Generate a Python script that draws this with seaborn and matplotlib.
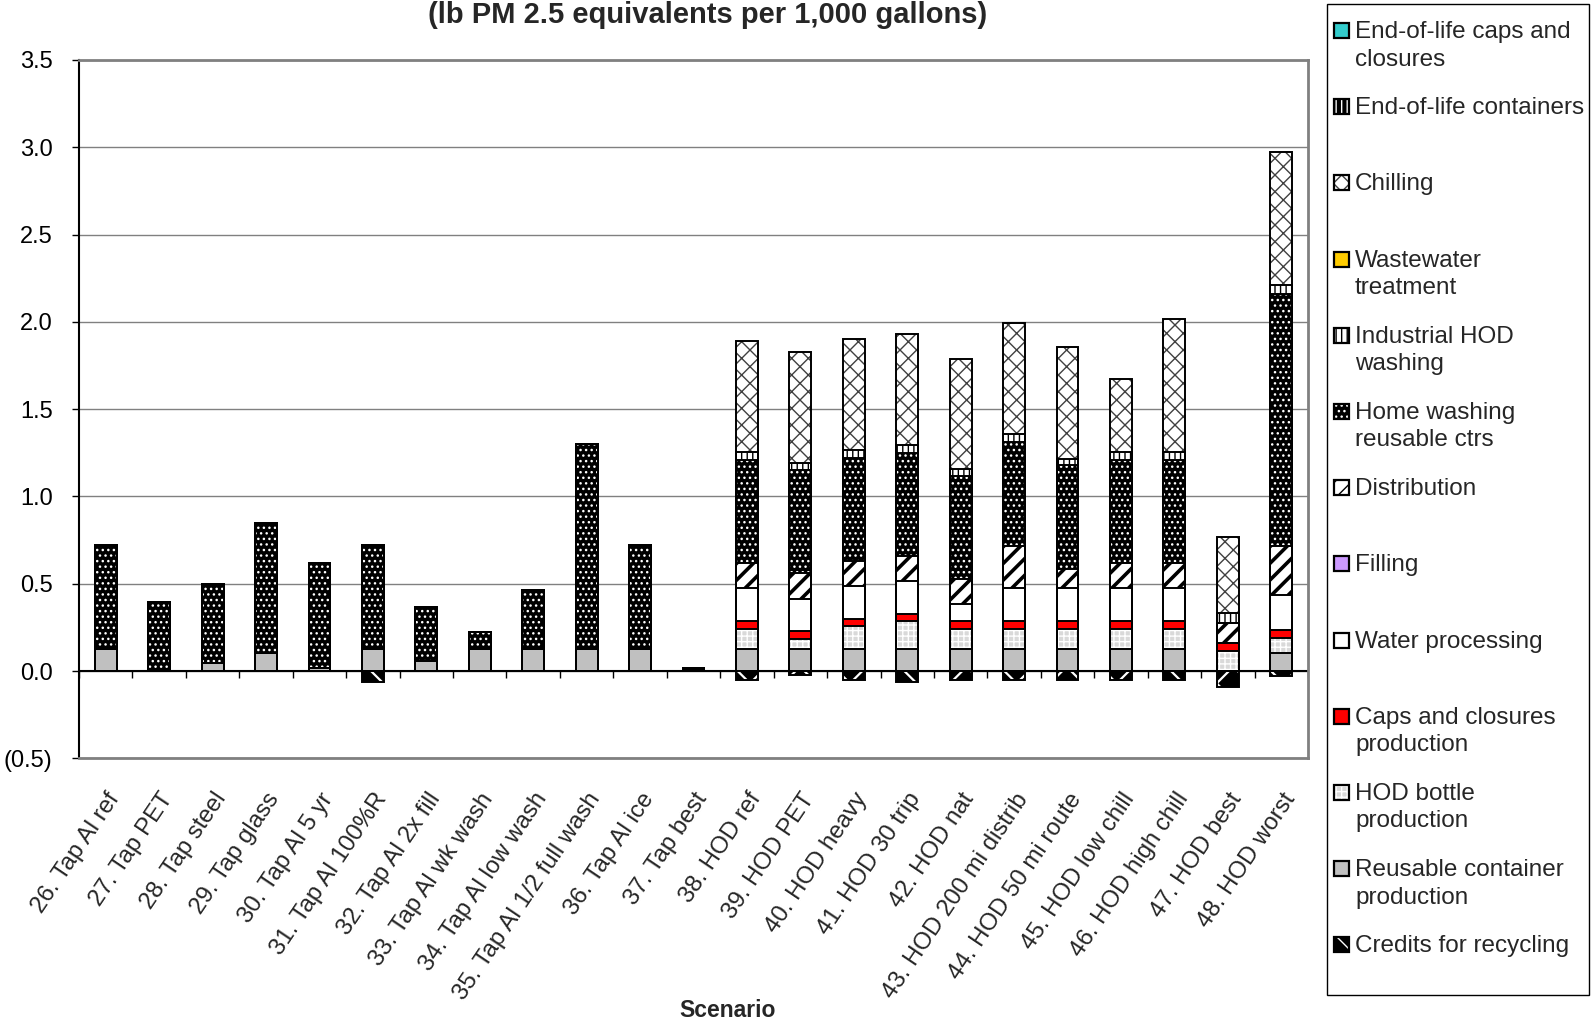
import numpy as np
import matplotlib
matplotlib.use("Agg")
import matplotlib.pyplot as plt
from matplotlib.patches import Rectangle
from matplotlib.ticker import FuncFormatter, MultipleLocator
import seaborn as sns

# ---- data (lb PM 2.5 equivalents per 1,000 gallons) ----
scenarios = [
    "26. Tap Al ref", "27. Tap PET", "28. Tap steel", "29. Tap glass",
    "30. Tap Al 5 yr", "31. Tap Al 100%R", "32. Tap Al 2x fill",
    "33. Tap Al wk wash", "34. Tap Al low wash", "35. Tap Al 1/2 full wash",
    "36. Tap Al ice", "37. Tap best", "38. HOD ref", "39. HOD PET",
    "40. HOD heavy", "41. HOD 30 trip", "42. HOD nat", "43. HOD 200 mi distrib",
    "44. HOD 50 mi route", "45. HOD low chill", "46. HOD high chill",
    "47. HOD best", "48. HOD worst",
]

credits_recycling = [0, 0, 0, 0, 0, -0.061, 0, 0, 0, 0, 0, 0,
                     -0.052, -0.020, -0.050, -0.065, -0.050, -0.050, -0.050, -0.050, -0.050, -0.093, -0.028]
reusable_container = [0.124, 0.012, 0.044, 0.105, 0.019, 0.124, 0.059, 0.124, 0.124, 0.124, 0.124, 0.0,
                      0.125, 0.125, 0.125, 0.125, 0.125, 0.125, 0.125, 0.125, 0.125, 0.0, 0.105]
hod_bottle = [0, 0, 0, 0, 0, 0, 0, 0, 0, 0, 0, 0,
              0.115, 0.058, 0.131, 0.160, 0.115, 0.115, 0.115, 0.115, 0.115, 0.115, 0.085]
caps_production = [0, 0, 0, 0, 0, 0, 0, 0, 0, 0, 0, 0,
                   0.045, 0.044, 0.042, 0.042, 0.045, 0.045, 0.045, 0.045, 0.045, 0.045, 0.045]
water_processing = [0, 0, 0, 0, 0, 0, 0, 0, 0, 0, 0, 0,
                    0.192, 0.188, 0.189, 0.188, 0.096, 0.192, 0.192, 0.192, 0.192, 0.0, 0.200]
filling = [0] * 23
distribution = [0, 0, 0, 0, 0, 0, 0, 0, 0, 0, 0, 0,
                0.144, 0.145, 0.144, 0.145, 0.144, 0.240, 0.106, 0.144, 0.144, 0.115, 0.282]
home_washing = [0.596, 0.382, 0.453, 0.741, 0.598, 0.600, 0.307, 0.101, 0.339, 1.176, 0.598, 0.020,
                0.587, 0.590, 0.592, 0.590, 0.590, 0.596, 0.596, 0.587, 0.587, 0.0, 1.443]
industrial_washing = [0, 0, 0, 0, 0, 0, 0, 0, 0, 0, 0, 0,
                      0.044, 0.042, 0.042, 0.044, 0.041, 0.043, 0.038, 0.044, 0.044, 0.055, 0.050]
wastewater = [0] * 23
chilling = [0, 0, 0, 0, 0, 0, 0, 0, 0, 0, 0, 0,
            0.636, 0.636, 0.635, 0.634, 0.634, 0.639, 0.638, 0.423, 0.763, 0.435, 0.762]
eol_containers = [0] * 23
eol_caps = [0] * 23

# ---- styles: (label, values, face, hatch, hatch colour) in stacking order ----
layers = [
    ("Reusable container\nproduction", reusable_container, "#C0C0C0", None, None),
    ("HOD bottle\nproduction", hod_bottle, "#D9D9D9", "+++", "white"),
    ("Caps and closures\nproduction", caps_production, "#FF0000", None, None),
    ("Water processing", water_processing, "white", None, None),
    ("Filling", filling, "#CC99FF", None, None),
    ("Distribution", distribution, "white", "//", "black"),
    ("Home washing\nreusable ctrs", home_washing, "black", "...", "white"),
    ("Industrial HOD\nwashing", industrial_washing, "white", "|||", "black"),
    ("Wastewater\ntreatment", wastewater, "#FFCC00", None, None),
    ("Chilling", chilling, "white", "xx", "#404040"),
    ("End-of-life containers", eol_containers, "black", "|||", "white"),
    ("End-of-life caps and\nclosures", eol_caps, "#33CCCC", None, None),
]
credit_style = ("Credits for recycling", credits_recycling, "black", "x", "white")

sns.set_theme(style="white")
plt.rcParams["font.family"] = ["Liberation Sans", "DejaVu Sans"]
plt.rcParams["hatch.linewidth"] = 1.0

W, H = 1595, 1024
fig = plt.figure(figsize=(W / 100, H / 100), dpi=100)
ax = fig.add_axes([79 / W, 1 - 758.3 / H, (1308 - 79) / W, (758.3 - 60) / H])

BAR_W = 0.41
EDGE_LW = 1.4


def draw_bars(heights, face, hatch, hcolor, hatch_lw=None):
    """Draw one set of bars (0 -> heights) with fill/hatch and a black outline."""
    n_before = len(ax.patches)
    sns.barplot(x=scenarios, y=heights, order=scenarios, ax=ax,
                color=face, saturation=1, errorbar=None, width=BAR_W,
                edgecolor=hcolor if hatch else face, linewidth=0,
                hatch=hatch, zorder=2)
    if hatch_lw is not None:
        for p in ax.patches[n_before:]:
            try:
                p.set_hatch_linewidth(hatch_lw)
            except AttributeError:
                pass
    sns.barplot(x=scenarios, y=heights, order=scenarios, ax=ax,
                fill=False, errorbar=None, width=BAR_W,
                edgecolor="black", linewidth=EDGE_LW, zorder=3)


# stacked bars: draw cumulative totals from the top component downwards,
# each lower component covering the part of the bar beneath it
values = np.array([np.asarray(v, dtype=float) for _, v, *_ in layers])
tops = np.cumsum(values, axis=0)
for k in range(len(layers) - 1, -1, -1):
    label, vals, face, hatch, hcol = layers[k]
    if not np.any(values[k]):
        continue
    draw_bars(tops[k], face, hatch, hcol,
              hatch_lw=2.6 if label == "Distribution" else None)

draw_bars(np.asarray(credits_recycling, dtype=float), *credit_style[2:],
          hatch_lw=1.6)

# ---- axes styling ----
ax.set_xlim(-0.5, len(scenarios) - 0.5)
ax.set_ylim(-0.5, 3.5)
ax.yaxis.set_major_locator(MultipleLocator(0.5))
ax.yaxis.set_major_formatter(FuncFormatter(
    lambda v, _: f"({abs(v):.1f})" if v < -1e-9 else f"{v:.1f}"))
ax.yaxis.grid(True, color="#808080", linewidth=1.0)
ax.xaxis.grid(False)
ax.set_axisbelow(True)

ax.axhline(0, color="black", linewidth=1.5, zorder=1.5)
ax.vlines(np.arange(len(scenarios) + 1) - 0.5, -0.04, 0, color="black",
          linewidth=1.0, zorder=1.5)

for side in ("top", "right", "bottom"):
    ax.spines[side].set_color("#808080")
    ax.spines[side].set_linewidth(2.0)
ax.spines["left"].set_color("black")
ax.spines["left"].set_linewidth(1.5)

ax.tick_params(axis="y", left=True, length=5, width=1, direction="out",
               pad=14, labelsize=17, colors="black")
ax.set_xticks(range(len(scenarios)))
ax.set_xticklabels(scenarios, rotation=56, ha="right", va="top",
                   rotation_mode="anchor", fontsize=17.3)
ax.tick_params(axis="x", bottom=False, length=0, pad=22)
ax.set_xlabel("")
ax.set_ylabel("")

fig.text(708 / W, 1 - 23 / H, "(lb PM 2.5 equivalents per 1,000 gallons)",
         ha="center", va="baseline", fontsize=21, fontweight="bold")
fig.text(727.5 / W, 1 - 1017 / H, "Scenario", ha="center", va="baseline",
         fontsize=16.5, fontweight="bold")

# ---- legend panel ----
def px(x, y):
    return x / W, 1 - y / H

fig.add_artist(Rectangle(px(1326.5, 995), 262.5 / W, 990.7 / H,
                         transform=fig.transFigure, facecolor="white",
                         edgecolor="black", linewidth=1.0))

legend_entries = ([credit_style] + layers)[::-1]
for i, (label, _, face, hatch, hcol) in enumerate(legend_entries):
    base = 38 + 76.2 * i
    fig.add_artist(Rectangle(px(1334, base), 15 / W, 15 / H,
                             transform=fig.transFigure, facecolor=face,
                             edgecolor=hcol if hatch else face, hatch=hatch,
                             linewidth=0))
    fig.add_artist(Rectangle(px(1334, base), 15 / W, 15 / H,
                             transform=fig.transFigure, facecolor="none",
                             edgecolor="black", linewidth=1.6))
    for j, line in enumerate(label.split("\n")):
        fig.text(1355 / W, 1 - (base + 27.5 * j) / H, line, ha="left",
                 va="baseline", fontsize=17.5)

fig.savefig("out.png", dpi=100)
